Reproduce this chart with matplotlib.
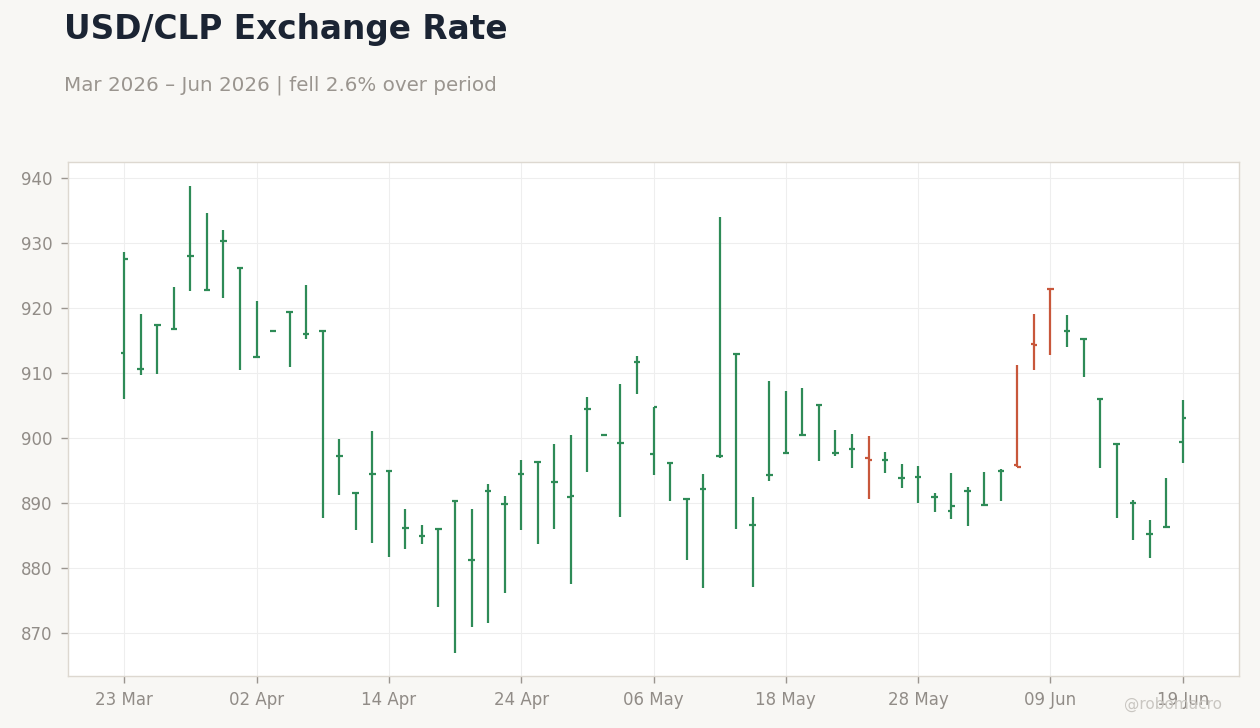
import numpy as np
import pandas as pd
from matplotlib import pyplot as plt

# business days, 23 Mar -> 19 Jun 2026
dates = pd.bdate_range("2026-03-23", periods=65)

opens = [913.1, 910.7, 917.4, 916.8, 928.0, 922.8, 930.4, 926.2, 912.5, 916.5,
         919.4, 916.0, 916.5, 897.3, 891.6, 894.5, 895.0, 886.2, 885.0, 886.0,
         890.4, 881.3, 891.9, 889.8, 894.5, 896.3, 893.3, 891.0, 904.5, 900.5,
         899.3, 911.7, 897.6, 896.2, 890.6, 892.2, 897.2, 913.0, 886.7, 894.4,
         897.7, 900.5, 905.1, 897.7, 898.4, 897.0, 896.7, 893.9, 894.0, 891.0,
         888.8, 891.9, 889.7, 895.0, 895.8, 914.5, 923.0, 916.5, 915.3, 906.0,
         899.1, 890.0, 885.3, 886.4, 899.4]
highs = [928.6, 919.1, 917.5, 923.2, 938.8, 934.6, 932.0, 926.2, 921.1, 916.5,
         919.4, 923.5, 916.5, 899.8, 891.6, 901.1, 895.0, 889.1, 886.6, 886.0,
         890.4, 889.1, 892.9, 891.1, 896.6, 896.3, 899.1, 900.5, 906.3, 900.5,
         908.3, 912.6, 904.8, 896.2, 890.6, 894.5, 934.0, 913.0, 890.9, 908.8,
         907.2, 907.7, 905.1, 901.2, 900.6, 900.3, 897.8, 896.0, 895.7, 891.5,
         894.6, 892.5, 894.8, 895.2, 911.3, 919.1, 923.0, 918.9, 915.3, 906.0,
         899.1, 890.5, 887.4, 893.8, 905.8]
lows = [906.0, 909.7, 909.9, 916.8, 922.7, 922.8, 921.6, 910.5, 912.5, 916.5,
        911.0, 915.3, 887.7, 891.3, 885.9, 883.9, 881.7, 883.0, 883.7, 874.0,
        867.0, 871.0, 871.6, 876.2, 885.9, 883.7, 886.0, 877.6, 894.8, 900.5,
        887.9, 906.8, 894.4, 890.4, 881.3, 877.0, 897.0, 886.0, 877.1, 893.4,
        897.7, 900.5, 896.5, 897.3, 895.4, 890.7, 894.7, 892.4, 890.0, 888.7,
        887.6, 886.5, 889.7, 890.4, 895.5, 910.5, 912.8, 914.0, 909.4, 895.4,
        887.7, 884.4, 881.6, 886.4, 896.2]
closes = [927.6, 910.7, 917.4, 916.8, 928.0, 922.8, 930.4, 926.2, 912.5, 916.5,
          919.4, 916.0, 916.5, 897.3, 891.6, 894.5, 895.0, 886.2, 885.0, 886.0,
          890.4, 881.3, 891.9, 889.8, 894.5, 896.3, 893.3, 891.1, 904.5, 900.5,
          899.3, 911.7, 904.8, 896.2, 890.6, 892.2, 897.2, 913.0, 886.7, 894.4,
          897.7, 900.5, 905.1, 897.7, 898.4, 896.7, 896.7, 893.9, 894.0, 891.0,
          889.6, 891.9, 889.7, 895.0, 895.5, 914.3, 922.9, 916.5, 915.3, 906.0,
          899.1, 890.0, 885.3, 886.4, 903.1]

UP = "#2e8b57"
DOWN = "#c8573b"
BG = "#f8f7f4"
TXT = "#918c87"

fig = plt.figure(figsize=(12.6, 7.28), dpi=100, facecolor=BG)
ax = fig.add_axes([68 / 1260, 1 - 676 / 728, (1239 - 68) / 1260, (676 - 162) / 728])
ax.set_facecolor("white")

x = np.arange(len(dates))
o = np.array(opens)
c = np.array(closes)
colors = [UP if cc >= oo else DOWN for oo, cc in zip(o, c)]
tick = 0.2

ax.vlines(x, lows, highs, colors=colors, lw=1.6, zorder=3)
ax.hlines(o, x - tick, x, colors=colors, lw=1.6, zorder=3)
ax.hlines(c, x, x + tick, colors=colors, lw=1.6, zorder=3)

ax.set_xlim(-3.4, 67.4)
ax.set_ylim(863.4, 942.5)
ax.set_yticks(np.arange(870, 941, 10))
ax.set_xticks(x[::8])
ax.set_xticklabels([d.strftime("%d %b") for d in dates[::8]])

ax.grid(True, color="#eeeeee", lw=0.8, zorder=0)
ax.set_axisbelow(True)
for s in ax.spines.values():
  s.set_color("#ddd8d0")
  s.set_linewidth(1)
ax.tick_params(colors="#9a958f", labelcolor=TXT, labelsize=12, length=5, width=1, pad=6)

fig.text(64 / 1260, 1 - 30 / 728, "USD/CLP Exchange Rate", fontsize=23.6, fontweight="bold",
         color="#1b2433", va="center", ha="left")
fig.text(64 / 1260, 1 - 85 / 728, "Mar 2026 \u2013 Jun 2026 | fell 2.6% over period", fontsize=14.3,
         color="#9a958f", va="center", ha="left")
fig.text(1222 / 1260, 1 - 704 / 728, "@robomacro", fontsize=11, color="#c9c6c1",
         va="center", ha="right")

fig.savefig("out.png", dpi=100, facecolor=BG)
